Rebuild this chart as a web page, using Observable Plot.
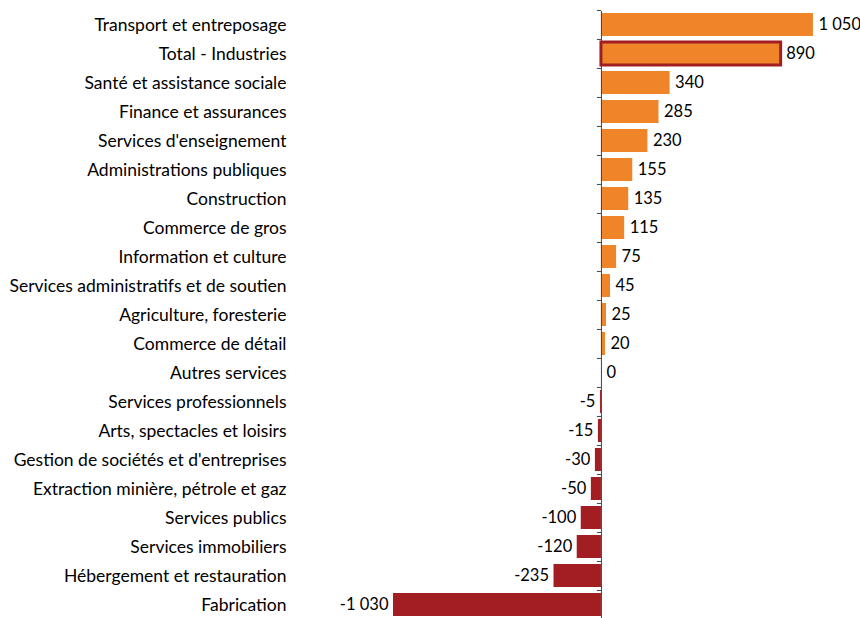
<!DOCTYPE html>
<html>
<head>
<meta charset="utf-8">
<script src="https://cdn.jsdelivr.net/npm/d3@7"></script>
<script src="https://cdn.jsdelivr.net/npm/@observablehq/plot@0.6"></script>
<style>
  html, body { margin: 0; padding: 0; background: #fff; }
</style>
</head>
<body>
<div id="chart"></div>
<script>
const categories = [
  "Transport et entreposage",
  "Total - Industries",
  "Santé et assistance sociale",
  "Finance et assurances",
  "Services d'enseignement",
  "Administrations publiques",
  "Construction",
  "Commerce de gros",
  "Information et culture",
  "Services administratifs et de soutien",
  "Agriculture, foresterie",
  "Commerce de détail",
  "Autres services",
  "Services professionnels",
  "Arts, spectacles et loisirs",
  "Gestion de sociétés et d'entreprises",
  "Extraction minière, pétrole et gaz",
  "Services publics",
  "Services immobiliers",
  "Hébergement et restauration",
  "Fabrication"
];
const values = [1050, 890, 340, 285, 230, 155, 135, 115, 75, 45, 25, 20, 0, -5, -15, -30, -50, -100, -120, -235, -1030];
const totalCategory = "Total - Industries";

const data = categories.map((cat, i) => ({cat, value: values[i]}));

const fmt = d3.formatLocale({thousands: "\u00a0", grouping: [3], decimal: ",", currency: ["", ""], minus: "-"}).format(",d");

const W = 860, H = 618;
const marginTop = 11, marginBottom = 0;
const paddingInner = 0.22, paddingOuter = 0.05;
const step = (H - marginTop - marginBottom) / (categories.length - paddingInner + 2 * paddingOuter);

const orange = "#F08428";
const red = "#A31E23";

const chart = Plot.plot({
  width: W,
  height: H,
  marginLeft: 290,
  marginRight: 0,
  marginTop,
  marginBottom,
  style: {fontFamily: "Lato, 'Open Sans', sans-serif", fontSize: "17.5px", color: "#000", background: "#fff"},
  x: {domain: [-1540, 1283], axis: null},
  y: {domain: categories, paddingInner, paddingOuter, label: null},
  marks: [
    Plot.barX(data.filter(d => d.cat !== totalCategory), {
      x: "value", y: "cat",
      fill: d => d.value >= 0 ? orange : red
    }),
    Plot.barX(data.filter(d => d.cat === totalCategory), {
      x: "value", y: "cat",
      fill: orange, stroke: red, strokeWidth: 3
    }),
    Plot.ruleX([0], {stroke: "#444", strokeWidth: 1}),
    Plot.ruleY(categories, {y: d => d, x1: -20, x2: 0, dy: -step / 2, stroke: "#444", strokeWidth: 1}),
    Plot.text(data.filter(d => d.value >= 0), {
      x: "value", y: "cat", text: d => fmt(d.value),
      textAnchor: "start", dx: 5, fill: "#000", fontSize: 16.5
    }),
    Plot.text(data.filter(d => d.value < 0), {
      x: "value", y: "cat", text: d => fmt(d.value),
      textAnchor: "end", dx: -5, fill: "#000", fontSize: 16.5
    }),
    Plot.axisY({tickSize: 0, tickPadding: 4, label: null, fill: "#000"})
  ]
});
document.getElementById("chart").appendChild(chart);
</script>
</body>
</html>
